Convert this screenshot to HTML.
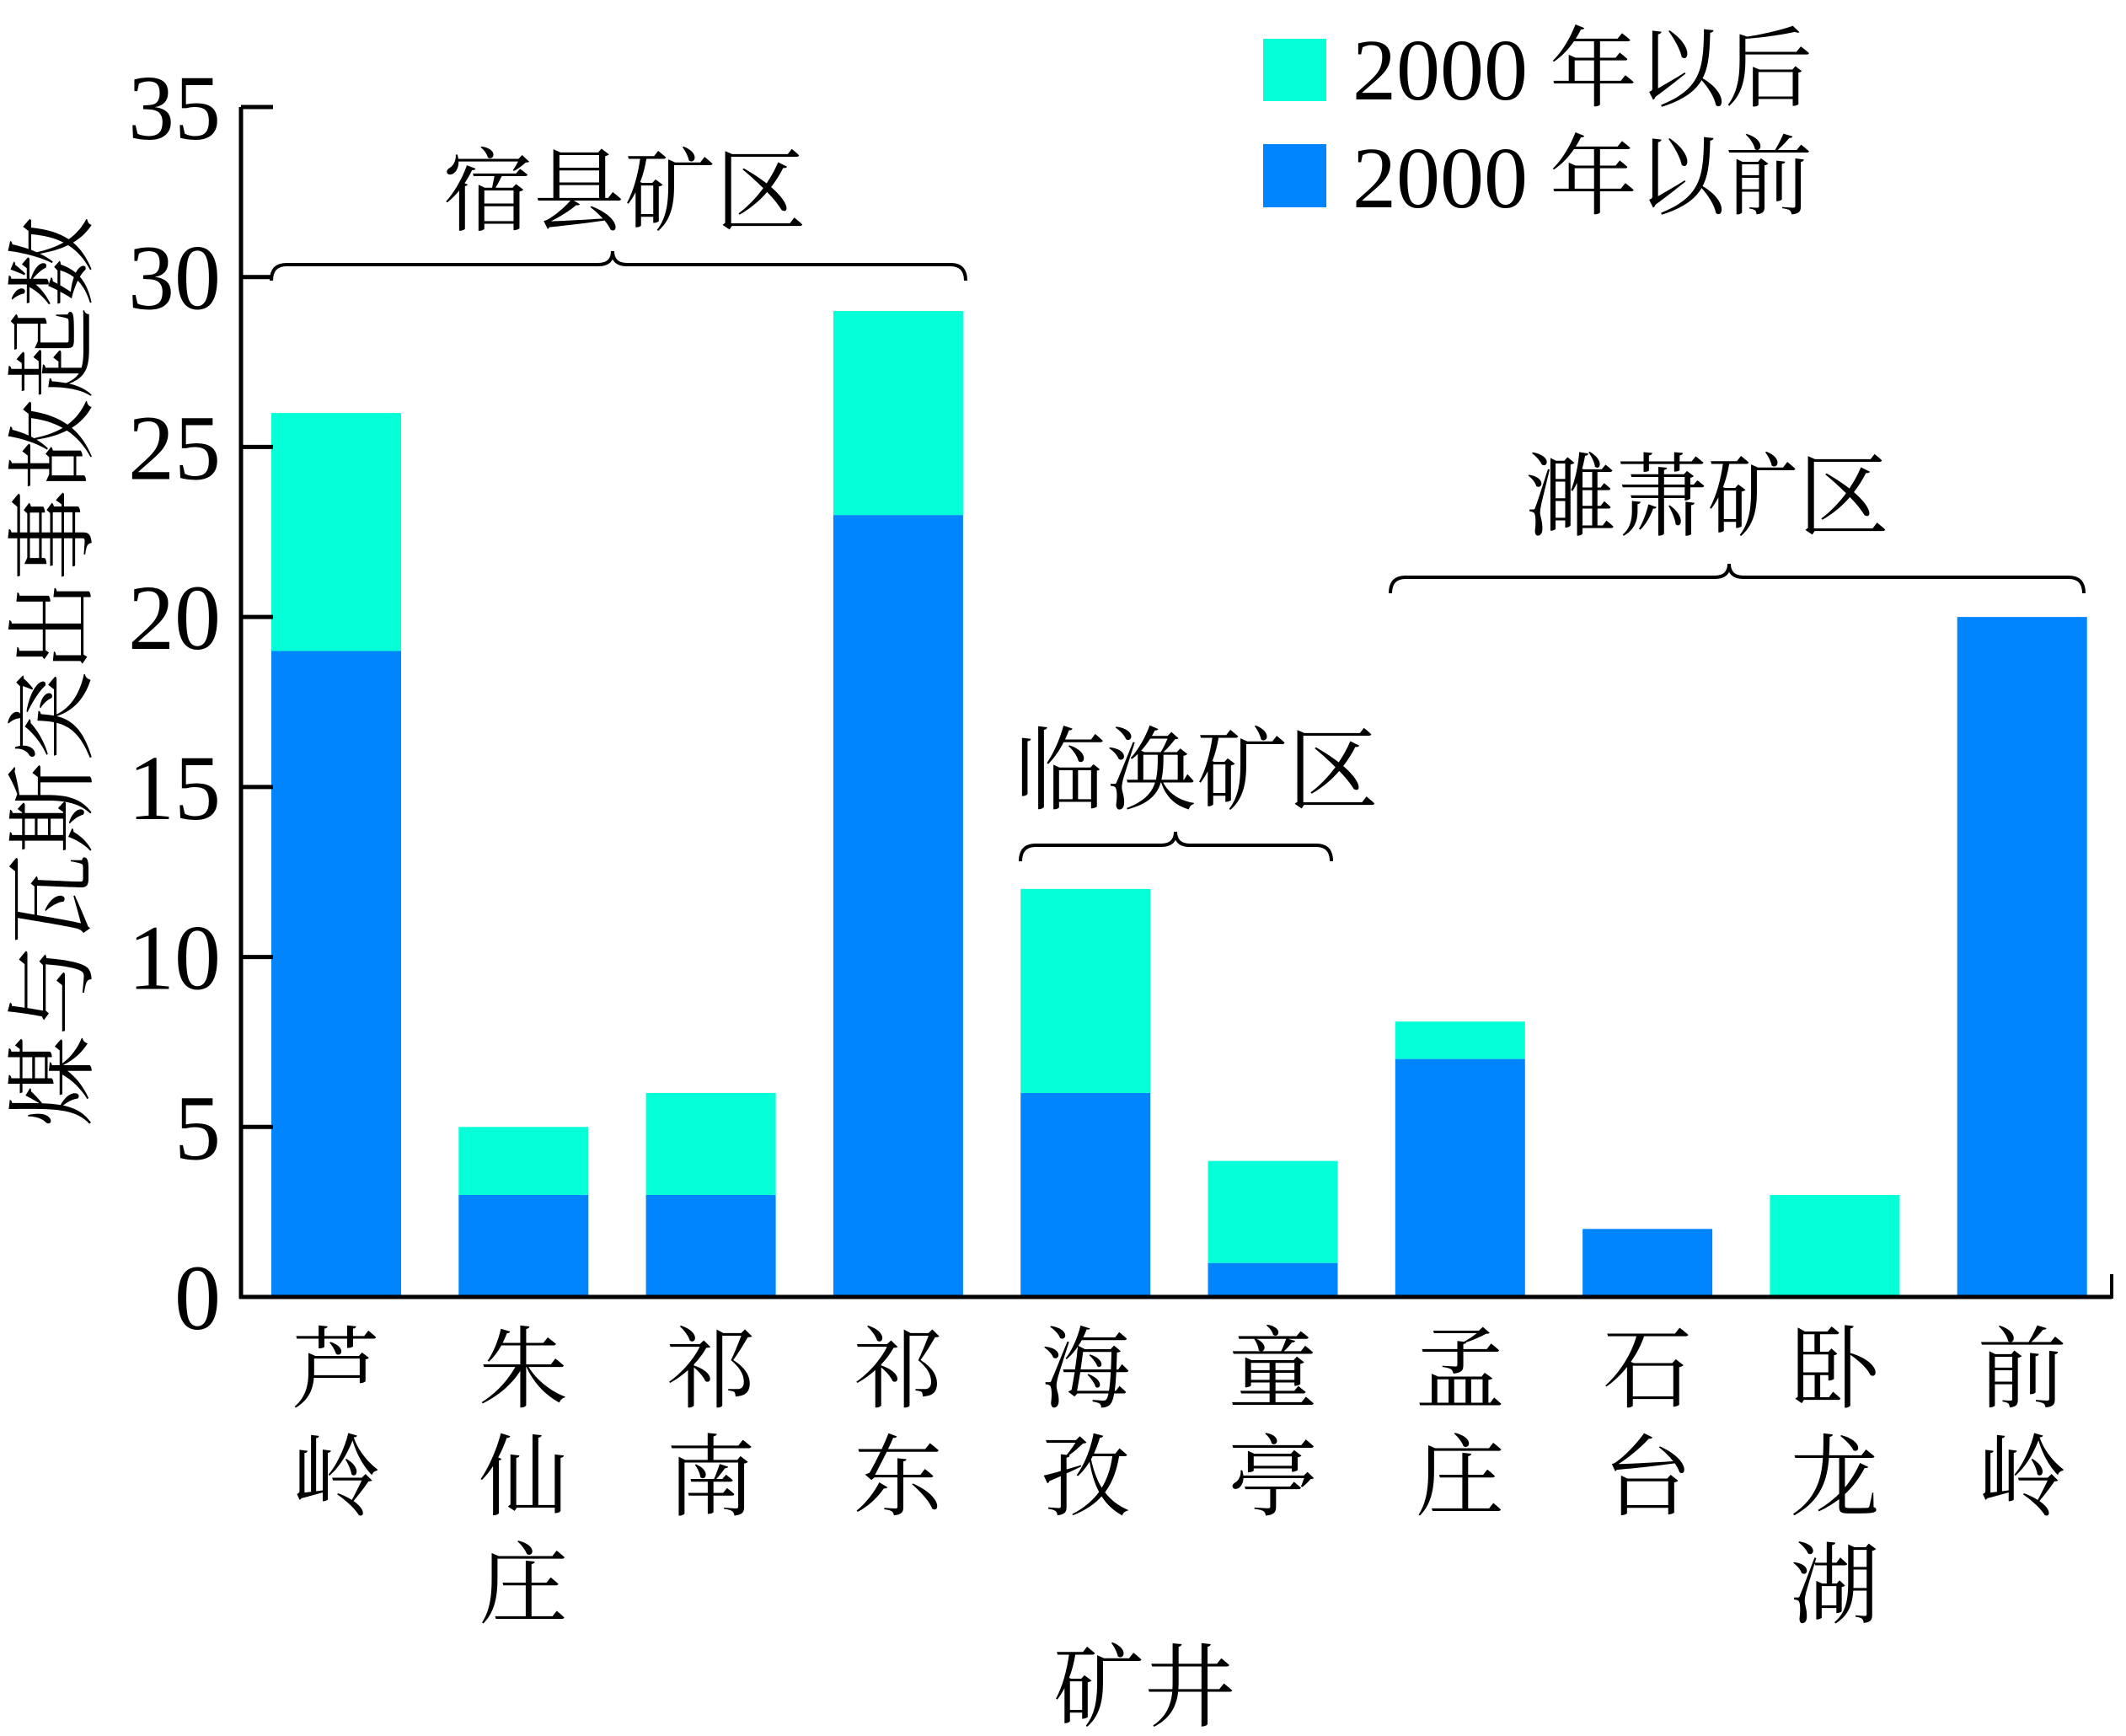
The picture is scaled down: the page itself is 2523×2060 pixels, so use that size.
<!DOCTYPE html>
<html><head><meta charset="utf-8"><style>
html,body{margin:0;padding:0;background:#fff;}
svg{display:block;font-family:"Liberation Serif","Noto Serif CJK SC",serif;}
</style></head><body>
<svg id="chart" width="2523" height="2060" viewBox="0 0 2523 2060" xmlns="http://www.w3.org/2000/svg">
<g id="bars"></g>
<g id="axes"></g>
<g>
  <rect x="1499" y="46" width="75" height="74" fill="#05FFD6"/>
  <text x="1605" y="118" font-size="104">2000 年以后</text>
  <rect x="1499" y="171" width="75" height="75" fill="#0085FF"/>
  <text x="1605" y="246" font-size="104">2000 年以前</text>
</g>
<g>
  <text x="741" y="265" font-size="108" text-anchor="middle">宿县矿区</text>
  <path d="M322,333 Q322,314 340,314 L710,314 Q727,314 727,298 Q727,314 744,314 L1128,314 Q1146,314 1146,333" fill="none" stroke="#000" stroke-width="4"/>
  <text x="1420" y="952" font-size="108" text-anchor="middle">临涣矿区</text>
  <path d="M1211,1022 Q1211,1003 1229,1003 L1378,1003 Q1395,1003 1395,987 Q1395,1003 1412,1003 L1562,1003 Q1580,1003 1580,1022" fill="none" stroke="#000" stroke-width="4"/>
  <text x="2026" y="627" font-size="108" text-anchor="middle">濉萧矿区</text>
  <path d="M1650,704 Q1650,685 1668,685 L2035,685 Q2052,685 2052,669 Q2052,685 2069,685 L2455,685 Q2473,685 2473,704" fill="none" stroke="#000" stroke-width="4"/>
</g>
<text x="1358" y="2040" font-size="108" text-anchor="middle">矿井</text>
<g>
  <text transform="translate(100,797) rotate(-90)" font-size="108" text-anchor="middle">煤与瓦斯突出事故起数</text>
</g>
</svg>
<script>
const categories = [["芦","岭"],["朱","仙","庄"],["祁","南"],["祁","东"],["海","孜"],["童","亭"],["孟","庄"],["石","台"],["卧","龙","湖"],["前","岭"]];
const before2000 = [19, 3, 3, 23, 6, 1, 7, 2, 0, 20];
const after2000 = [7, 2, 3, 6, 6, 3, 1.1, 0, 3, 0];
const yTicks = [0, 5, 10, 15, 20, 25, 30, 35];

const NS = "http://www.w3.org/2000/svg";
const X0 = 286, XEND = 2506, Y0 = 1539, YTOP = 127, YMAX = 35;
const firstLeft = 322, pitch = 222.3, barW = 154;
function yScale(v){ return Y0 - (Y0 - YTOP) * v / YMAX; }
function xLeft(i){ return firstLeft + i * pitch; }
function mk(tag, attrs, parent){
  const e = document.createElementNS(NS, tag);
  for (const k in attrs) e.setAttribute(k, attrs[k]);
  parent.appendChild(e);
  return e;
}
const bars = document.getElementById('bars');
const axes = document.getElementById('axes');
categories.forEach((cat, i) => {
  const x = xLeft(i);
  const b = before2000[i], a = after2000[i];
  if (b > 0) {
    const r = mk('rect', {x: x, y: yScale(b), width: barW, height: yScale(0) - yScale(b), fill: '#0085FF'}, bars);
    
    
  }
  if (a > 0) {
    const r = mk('rect', {x: x, y: yScale(b + a), width: barW, height: yScale(b) - yScale(b + a), fill: '#05FFD6'}, bars);
    
    
  }
  cat.forEach((ch, j) => {
    const t = mk('text', {x: x + barW / 2, y: 1662 + j * 128, 'font-size': 106, 'text-anchor': 'middle'}, axes);
    t.textContent = ch;
    
    
  });
});
const yAxis = mk('line', {x1: X0, y1: YTOP, x2: X0, y2: Y0 + 2, stroke: '#000', 'stroke-width': 5}, axes);


const xAxis = mk('line', {x1: X0 - 2, y1: Y0, x2: XEND, y2: Y0, stroke: '#000', 'stroke-width': 5}, axes);


const endTick = mk('line', {x1: XEND, y1: Y0 + 2, x2: XEND, y2: Y0 - 27, stroke: '#000', 'stroke-width': 4}, axes);


yTicks.forEach(v => {
  const y = yScale(v);
  const tk = mk('line', {x1: X0, y1: y, x2: X0 + 38, y2: y, stroke: '#000', 'stroke-width': 5}, axes);
  
  
  const t = mk('text', {x: 262, y: y + 38, 'font-size': 110, 'text-anchor': 'end'}, axes);
  t.textContent = String(v);
  
  
});
</script>
</body></html>
